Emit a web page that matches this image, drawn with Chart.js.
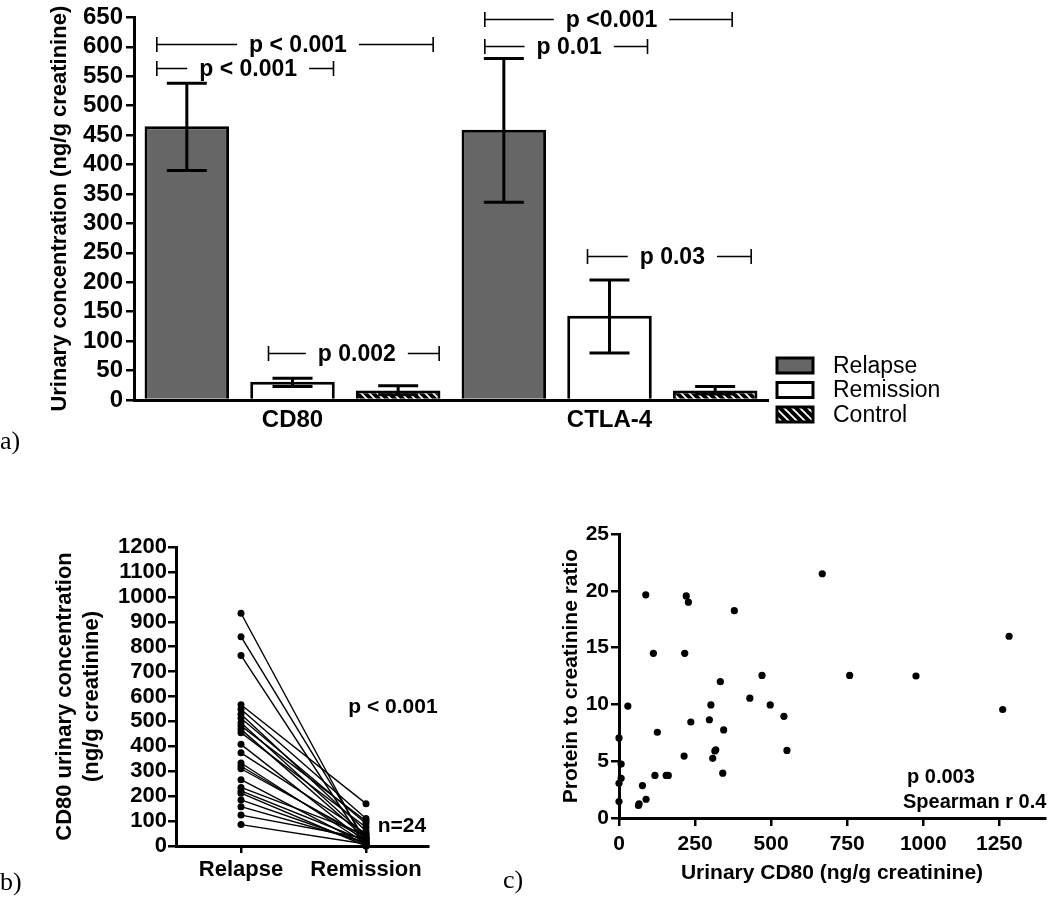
<!DOCTYPE html>
<html><head><meta charset="utf-8">
<script src="https://cdn.jsdelivr.net/npm/chart.js@4.4.1/dist/chart.umd.min.js"></script>
<style>
html,body{margin:0;padding:0;background:#fff;}
#wrap{position:relative;width:1050px;height:912px;overflow:hidden;background:#fff;}
canvas{position:absolute;}
.lbl{position:absolute;font-family:"Liberation Serif","Times New Roman",serif;font-size:26px;line-height:26px;color:#000;}
</style></head><body>
<div id="wrap">
<canvas id="ca" style="left:0;top:0" width="1050" height="470"></canvas>
<canvas id="cb" style="left:0;top:470px" width="540" height="442"></canvas>
<canvas id="cc" style="left:540px;top:470px" width="510" height="442"></canvas>
<div class="lbl" style="left:0;top:428px">a)</div>
<div class="lbl" style="left:0;top:869px">b)</div>
<div class="lbl" style="left:503px;top:867px">c)</div>
</div>
<script>
// ---------- Panel a data ----------
const groups = ['CD80', 'CTLA-4'];
const seriesNames = ['Relapse', 'Remission', 'Control'];
const relapseMean = [465, 459];
const relapseHigh = [538, 580];
const relapseLow = [390, 336];
const remissionMean = [31, 143];
const remissionHigh = [37, 204];
const remissionLow = [23, 80];
const controlMean = [16, 16];
const controlHigh = [24, 23];
const controlLow = [9, 10];
const yTicksA = [0,50,100,150,200,250,300,350,400,450,500,550,600,650];
const yTitleA = 'Urinary concentration (ng/g creatinine)';
const bracketGroup = [0, 0, 0, 1, 1, 1];
const bracketFrom = [0, 0, 1, 0, 0, 1];
const bracketTo = [2, 1, 2, 2, 1, 2];
const bracketLevel = [605, 564, 79, 647, 601, 244];
const bracketText = ['p < 0.001', 'p < 0.001', 'p 0.002', 'p <0.001', 'p 0.01', 'p 0.03'];

// ---------- Panel b data ----------
const pairLabels = ['Relapse', 'Remission'];
const relapseCD80 = [934,840,765,567,549,529,513,495,482,468,455,408,374,333,320,310,266,235,221,212,185,158,124,86];
const remissionCD80 = [5,20,0,170,110,60,90,40,100,30,75,15,50,10,25,35,5,45,20,0,10,15,30,8];
const yTicksB = [0,100,200,300,400,500,600,700,800,900,1000,1100,1200];
const yTitleB = ['CD80 urinary concentration', '(ng/g creatinine)'];

// ---------- Panel c data ----------
const scatterCD80 = [668,88,221,228,379,1282,113,216,470,758,976,333,430,29,302,497,1261,542,297,236,126,344,0,315,318,552,214,308,7,341,118,155,162,7,0,77,89,64,66,0];
const scatterPCR = [21.5,19.65,19.55,19.0,18.25,16.0,14.5,14.5,12.55,12.55,12.5,12.0,10.55,9.85,9.95,9.95,9.55,8.95,8.65,8.45,7.55,7.75,7.05,5.9,6.0,5.95,5.45,5.25,4.75,3.95,3.75,3.75,3.75,3.5,3.05,2.85,1.65,1.1,1.25,1.45];
const xTicksC = [0,250,500,750,1000,1250];
const yTicksC = [0,5,10,15,20,25];
const xTitleC = 'Urinary CD80 (ng/g creatinine)';
const yTitleC = 'Protein to creatinine ratio';

// ---------- common ----------
const FONT = '"Liberation Sans", Arial, Helvetica, sans-serif';
Chart.defaults.font.family = FONT;
Chart.defaults.color = '#000';
const plain = v => String(v);

function makeHatch() {
  const c = document.createElement('canvas');
  c.width = 8; c.height = 8;
  const x = c.getContext('2d');
  x.fillStyle = '#000'; x.fillRect(0, 0, 8, 8);
  x.strokeStyle = '#fff'; x.lineWidth = 1.8;
  x.beginPath();
  x.moveTo(-2, -2); x.lineTo(10, 10);
  x.moveTo(-6, 2); x.lineTo(6, 14);
  x.moveTo(2, -6); x.lineTo(14, 6);
  x.stroke();
  return x.createPattern(c, 'repeat');
}
const hatch = makeHatch();
const seriesFill = ['#666666', '#ffffff', hatch];
const means = [relapseMean, remissionMean, controlMean];
const highs = [relapseHigh, remissionHigh, controlHigh];
const lows = [relapseLow, remissionLow, controlLow];

const errorBarPlugin = {
  id: 'errbars',
  afterDatasetsDraw(chart) {
    const ctx = chart.ctx, ys = chart.scales.y;
    ctx.save();
    ctx.strokeStyle = '#000'; ctx.lineWidth = 3;
    chart.data.datasets.forEach((ds, i) => {
      chart.getDatasetMeta(i).data.forEach((el, j) => {
        const yh = ys.getPixelForValue(highs[i][j]);
        const yl = ys.getPixelForValue(lows[i][j]);
        ctx.beginPath();
        ctx.moveTo(el.x, yl); ctx.lineTo(el.x, yh);
        ctx.moveTo(el.x - 20, yh); ctx.lineTo(el.x + 20, yh);
        ctx.moveTo(el.x - 20, yl); ctx.lineTo(el.x + 20, yl);
        ctx.stroke();
      });
    });
    ctx.restore();
  }
};

// per-bracket horizontal insets (px) relative to bar centres
const bracketInsetL = [-30, -30, -24, -19, -19, -22];
const bracketInsetR = [35, 41, 41, 17, 38, 36];
const bracketPlugin = {
  id: 'brackets',
  afterDatasetsDraw(chart) {
    const ctx = chart.ctx, ys = chart.scales.y;
    ctx.save();
    ctx.strokeStyle = '#000'; ctx.fillStyle = '#000'; ctx.lineWidth = 1.6;
    ctx.font = 'bold 23px ' + FONT;
    ctx.textAlign = 'center'; ctx.textBaseline = 'middle';
    bracketText.forEach((t, k) => {
      const a = chart.getDatasetMeta(bracketFrom[k]).data[bracketGroup[k]];
      const b = chart.getDatasetMeta(bracketTo[k]).data[bracketGroup[k]];
      const x1 = a.x + bracketInsetL[k], x2 = b.x + bracketInsetR[k];
      const y = Math.round(ys.getPixelForValue(bracketLevel[k])) + 0.5;
      const cx = (x1 + x2) / 2 + 3, w = ctx.measureText(t).width;
      ctx.beginPath();
      ctx.moveTo(x1, y); ctx.lineTo(cx - w / 2 - 12, y);
      ctx.moveTo(cx + w / 2 + 12, y); ctx.lineTo(x2, y);
      ctx.moveTo(x1, y - 7.5); ctx.lineTo(x1, y + 7.5);
      ctx.moveTo(x2, y - 7.5); ctx.lineTo(x2, y + 7.5);
      ctx.stroke();
      ctx.fillText(t, cx, y + 1);
    });
    ctx.restore();
  }
};

const legendPlugin = {
  id: 'customLegend',
  afterDraw(chart) {
    const ctx = chart.ctx;
    ctx.save();
    const bx = chart.chartArea.right + 9, by = chart.chartArea.bottom - 42;
    chart.data.datasets.forEach((ds, i) => {
      const y = by + i * 24.5;
      ctx.fillStyle = ds.backgroundColor;
      ctx.fillRect(bx, y, 36, 15);
      ctx.strokeStyle = '#000'; ctx.lineWidth = 3;
      ctx.strokeRect(bx, y, 36, 15);
      ctx.fillStyle = '#000';
      ctx.font = '23px ' + FONT;
      ctx.textAlign = 'left'; ctx.textBaseline = 'middle';
      ctx.fillText(ds.label, bx + 56, y + 8.5);
    });
    ctx.restore();
  }
};

new Chart(document.getElementById('ca'), {
  type: 'bar',
  data: {
    labels: groups,
    datasets: seriesNames.map((n, i) => ({
      label: n, data: means[i], backgroundColor: seriesFill[i],
      borderColor: '#000', borderWidth: 3, categoryPercentage: 1.0, barPercentage: 0.8
    }))
  },
  options: {
    responsive: false, devicePixelRatio: 1, animation: false,
    layout: { padding: { left: 47, right: 282, top: 13, bottom: 0 } },
    plugins: { legend: { display: false }, tooltip: { enabled: false } },
    scales: {
      x: {
        grid: { display: false, drawTicks: false },
        border: { display: true, color: '#000', width: 3 },
        ticks: { font: { size: 24, weight: 'bold' }, padding: 6, color: '#000' },
        afterFit: s => { s.height = 70; }
      },
      y: {
        min: 0, max: 650,
        afterBuildTicks: s => { s.ticks = yTicksA.map(v => ({ value: v })); },
        grid: { display: true, drawOnChartArea: false, drawTicks: true, tickLength: 8, color: '#000', lineWidth: 2.5 },
        border: { display: true, color: '#000', width: 3 },
        ticks: { autoSkip: false, font: { size: 24, weight: 'bold' }, padding: 3, color: '#000', callback: plain },
        title: { display: true, text: yTitleA, font: { size: 22, weight: 'bold' }, padding: 0, color: '#000' },
        afterFit: s => { s.width = 87; }
      }
    }
  },
  plugins: [errorBarPlugin, bracketPlugin, legendPlugin]
});

// ---------- Panel b ----------
const textPluginB = {
  id: 'textB',
  afterDraw(chart) {
    const ctx = chart.ctx;
    ctx.save();
    ctx.fillStyle = '#000';
    ctx.font = 'bold 21px ' + FONT;
    ctx.textAlign = 'center'; ctx.textBaseline = 'middle';
    ctx.fillText('p < 0.001', 393, 237);
    ctx.fillText('n=24', 402, 356);
    ctx.restore();
  }
};
new Chart(document.getElementById('cb'), {
  type: 'line',
  data: {
    datasets: relapseCD80.map((v, i) => ({
      data: [{ x: 0, y: v }, { x: 1, y: remissionCD80[i] }],
      borderColor: '#000', borderWidth: 1.4, pointRadius: 3.5,
      pointBackgroundColor: '#000', pointBorderWidth: 0, fill: false, clip: false
    }))
  },
  options: {
    responsive: false, devicePixelRatio: 1, animation: false,
    layout: { padding: { left: 51, right: 112, top: 77, bottom: 0 } },
    plugins: { legend: { display: false }, tooltip: { enabled: false } },
    scales: {
      x: {
        type: 'linear', min: -0.52, max: 1.496,
        afterBuildTicks: s => { s.ticks = pairLabels.map((l, i) => ({ value: i })); },
        grid: { display: true, drawOnChartArea: false, drawTicks: true, tickLength: 7, color: '#000', lineWidth: 2.5 },
        border: { display: true, color: '#000', width: 3 },
        ticks: { autoSkip: false, maxRotation: 0, font: { size: 22, weight: 'bold' }, padding: 4, color: '#000',
          callback: v => pairLabels[v] },
        afterFit: s => { s.height = 66; }
      },
      y: {
        min: 0, max: 1200,
        afterBuildTicks: s => { s.ticks = yTicksB.map(v => ({ value: v })); },
        grid: { display: true, drawOnChartArea: false, drawTicks: true, tickLength: 8, color: '#000', lineWidth: 2.5 },
        border: { display: true, color: '#000', width: 3 },
        ticks: { autoSkip: false, font: { size: 22, weight: 'bold' }, padding: 1, color: '#000', callback: plain },
        title: { display: true, text: yTitleB, font: { size: 22, weight: 'bold', lineHeight: 1.23 }, padding: 0, color: '#000' },
        afterFit: s => { s.width = 125; }
      }
    }
  },
  plugins: [textPluginB]
});

// ---------- Panel c ----------
const textPluginC = {
  id: 'textC',
  afterDraw(chart) {
    const ctx = chart.ctx;
    ctx.save();
    ctx.fillStyle = '#000';
    ctx.font = 'bold 20px ' + FONT;
    ctx.textAlign = 'left'; ctx.textBaseline = 'middle';
    ctx.fillText('p 0.003', 367, 307);
    ctx.fillText('Spearman r 0.4', 363, 332);
    ctx.restore();
  }
};
new Chart(document.getElementById('cc'), {
  type: 'scatter',
  data: {
    datasets: [{
      data: scatterCD80.map((x, i) => ({ x: x, y: scatterPCR[i] })),
      pointRadius: 3.6, pointBackgroundColor: '#000', pointBorderWidth: 0, clip: false
    }]
  },
  options: {
    responsive: false, devicePixelRatio: 1, animation: false,
    layout: { padding: { left: 19, right: 5, top: 64, bottom: 26 } },
    plugins: { legend: { display: false }, tooltip: { enabled: false } },
    scales: {
      x: {
        type: 'linear', min: 0, max: 1400,
        afterBuildTicks: s => { s.ticks = xTicksC.map(v => ({ value: v })); },
        grid: { display: true, drawOnChartArea: false, drawTicks: true, tickLength: 8, color: '#000', lineWidth: 2.5 },
        border: { display: true, color: '#000', width: 3 },
        ticks: { autoSkip: false, maxRotation: 0, font: { size: 21, weight: 'bold' }, padding: 6, color: '#000', callback: plain },
        title: { display: true, text: xTitleC, font: { size: 21, weight: 'bold' }, padding: 0, color: '#000' },
        afterFit: s => { s.height = 68; }
      },
      y: {
        min: 0, max: 25,
        afterBuildTicks: s => { s.ticks = yTicksC.map(v => ({ value: v })); },
        grid: { display: true, drawOnChartArea: false, drawTicks: true, tickLength: 8, color: '#000', lineWidth: 2.5 },
        border: { display: true, color: '#000', width: 3 },
        ticks: { autoSkip: false, font: { size: 21, weight: 'bold' }, padding: 2, color: '#000', callback: plain },
        title: { display: true, text: yTitleC, font: { size: 21, weight: 'bold' }, padding: 0, color: '#000' },
        afterFit: s => { s.width = 60; }
      }
    }
  },
  plugins: [textPluginC]
});
</script>
</body></html>
